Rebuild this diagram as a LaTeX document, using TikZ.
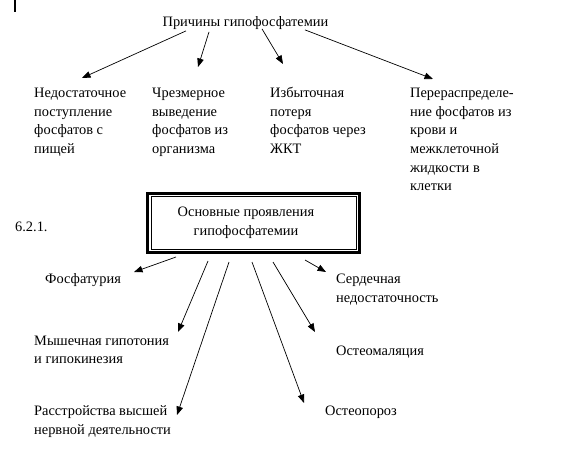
\documentclass[tikz,border=0pt]{standalone}
\usepackage{fontspec}
\setmainfont{Liberation Serif}
\usetikzlibrary{arrows.meta}
\begin{document}
\begin{tikzpicture}[x=1pt, y=-1pt,
    txt/.style={inner sep=0pt, align=left, anchor=north west,
        font=\fontsize{14.4}{18.7}\selectfont,
        execute at begin node=\strut},
    arr/.style={-{Triangle[length=8.5pt, width=6.5pt]}, line width=0.7pt}]
\useasboundingbox (0,0) rectangle (583,452);
% Cursor mark
\draw[line width=1.6pt] (15,0) -- (15,12);
% Causes
\node[txt, anchor=north] (title) at (245.5,12.9) {Причины гипофосфатемии};
\node[txt] (c1) at (34,84.2)  {\strut Недостаточное\\поступление\\фосфатов с\\пищей};
\node[txt] (c2) at (152,84.2) {\strut Чрезмерное\\выведение\\фосфатов из\\организма};
\node[txt] (c3) at (270,84.2) {\strut Избыточная\\потеря\\фосфатов через\\ЖКТ};
\node[txt] (c4) at (410,84.2) {\strut Перераспределе-\\ние фосфатов из\\крови и\\межклеточной\\жидкости в\\клетки};
% Arrow ends
\coordinate (s1) at ([shift={(-59.5,18)}]title.north);
\coordinate (s2) at ([shift={(-36.5,19)}]title.north);
\coordinate (s3) at ([shift={(16.5,16)}]title.north);
\coordinate (s4) at ([shift={(59.5,17)}]title.north);
\coordinate (h1) at (82,78);
\coordinate (h2) at (198,67);
\coordinate (h3) at (283,64);
\coordinate (h4) at (433,79);
\foreach \a/\b in {s1/h1, s2/h2, s3/h3, s4/h4}{
    \draw[arr] (\a) -- (\b);
}
% Label
\node[txt] (num) at (15,218.6) {6.2.1.};
% Framed box
\node[txt, anchor=north, align=center] (box) at (246,203.6)
    {\strut Основные проявления\\гипофосфатемии};
\draw[line width=0.8pt] (151.5,196.5) rectangle (356,249);
\draw[line width=3pt] (147.5,193) rectangle (359.5,252.5);
% Manifestations
\node[txt] (m1) at (45,270.2)  {Фосфатурия};
\node[txt] (m2) at (34,332)    {\strut Мышечная гипотония\\и гипокинезия};
\node[txt] (m3) at (34,402.6)  {\strut Расстройства высшей\\нервной деятельности};
\node[txt] (m4) at (336,270.2) {\strut Сердечная\\недостаточность};
\node[txt] (m5) at (336,341.9) {Остеомаляция};
\node[txt] (m6) at (325,402.6) {Остеопороз};
% Arrow ends
\coordinate (b1) at (176,257);
\coordinate (b2) at (208,261);
\coordinate (b3) at (229,262);
\coordinate (b4) at (252,262);
\coordinate (b5) at (273,262);
\coordinate (b6) at (305,260);
\coordinate (p1) at (134,272);
\coordinate (p2) at (178,332);
\coordinate (p3) at (177,415);
\coordinate (p4) at (304,403);
\coordinate (p5) at (315,332);
\coordinate (p6) at (326,272);
\foreach \a/\b in {b1/p1, b2/p2, b3/p3, b4/p4, b5/p5, b6/p6}{
    \draw[arr] (\a) -- (\b);
}
\end{tikzpicture}
\end{document}
